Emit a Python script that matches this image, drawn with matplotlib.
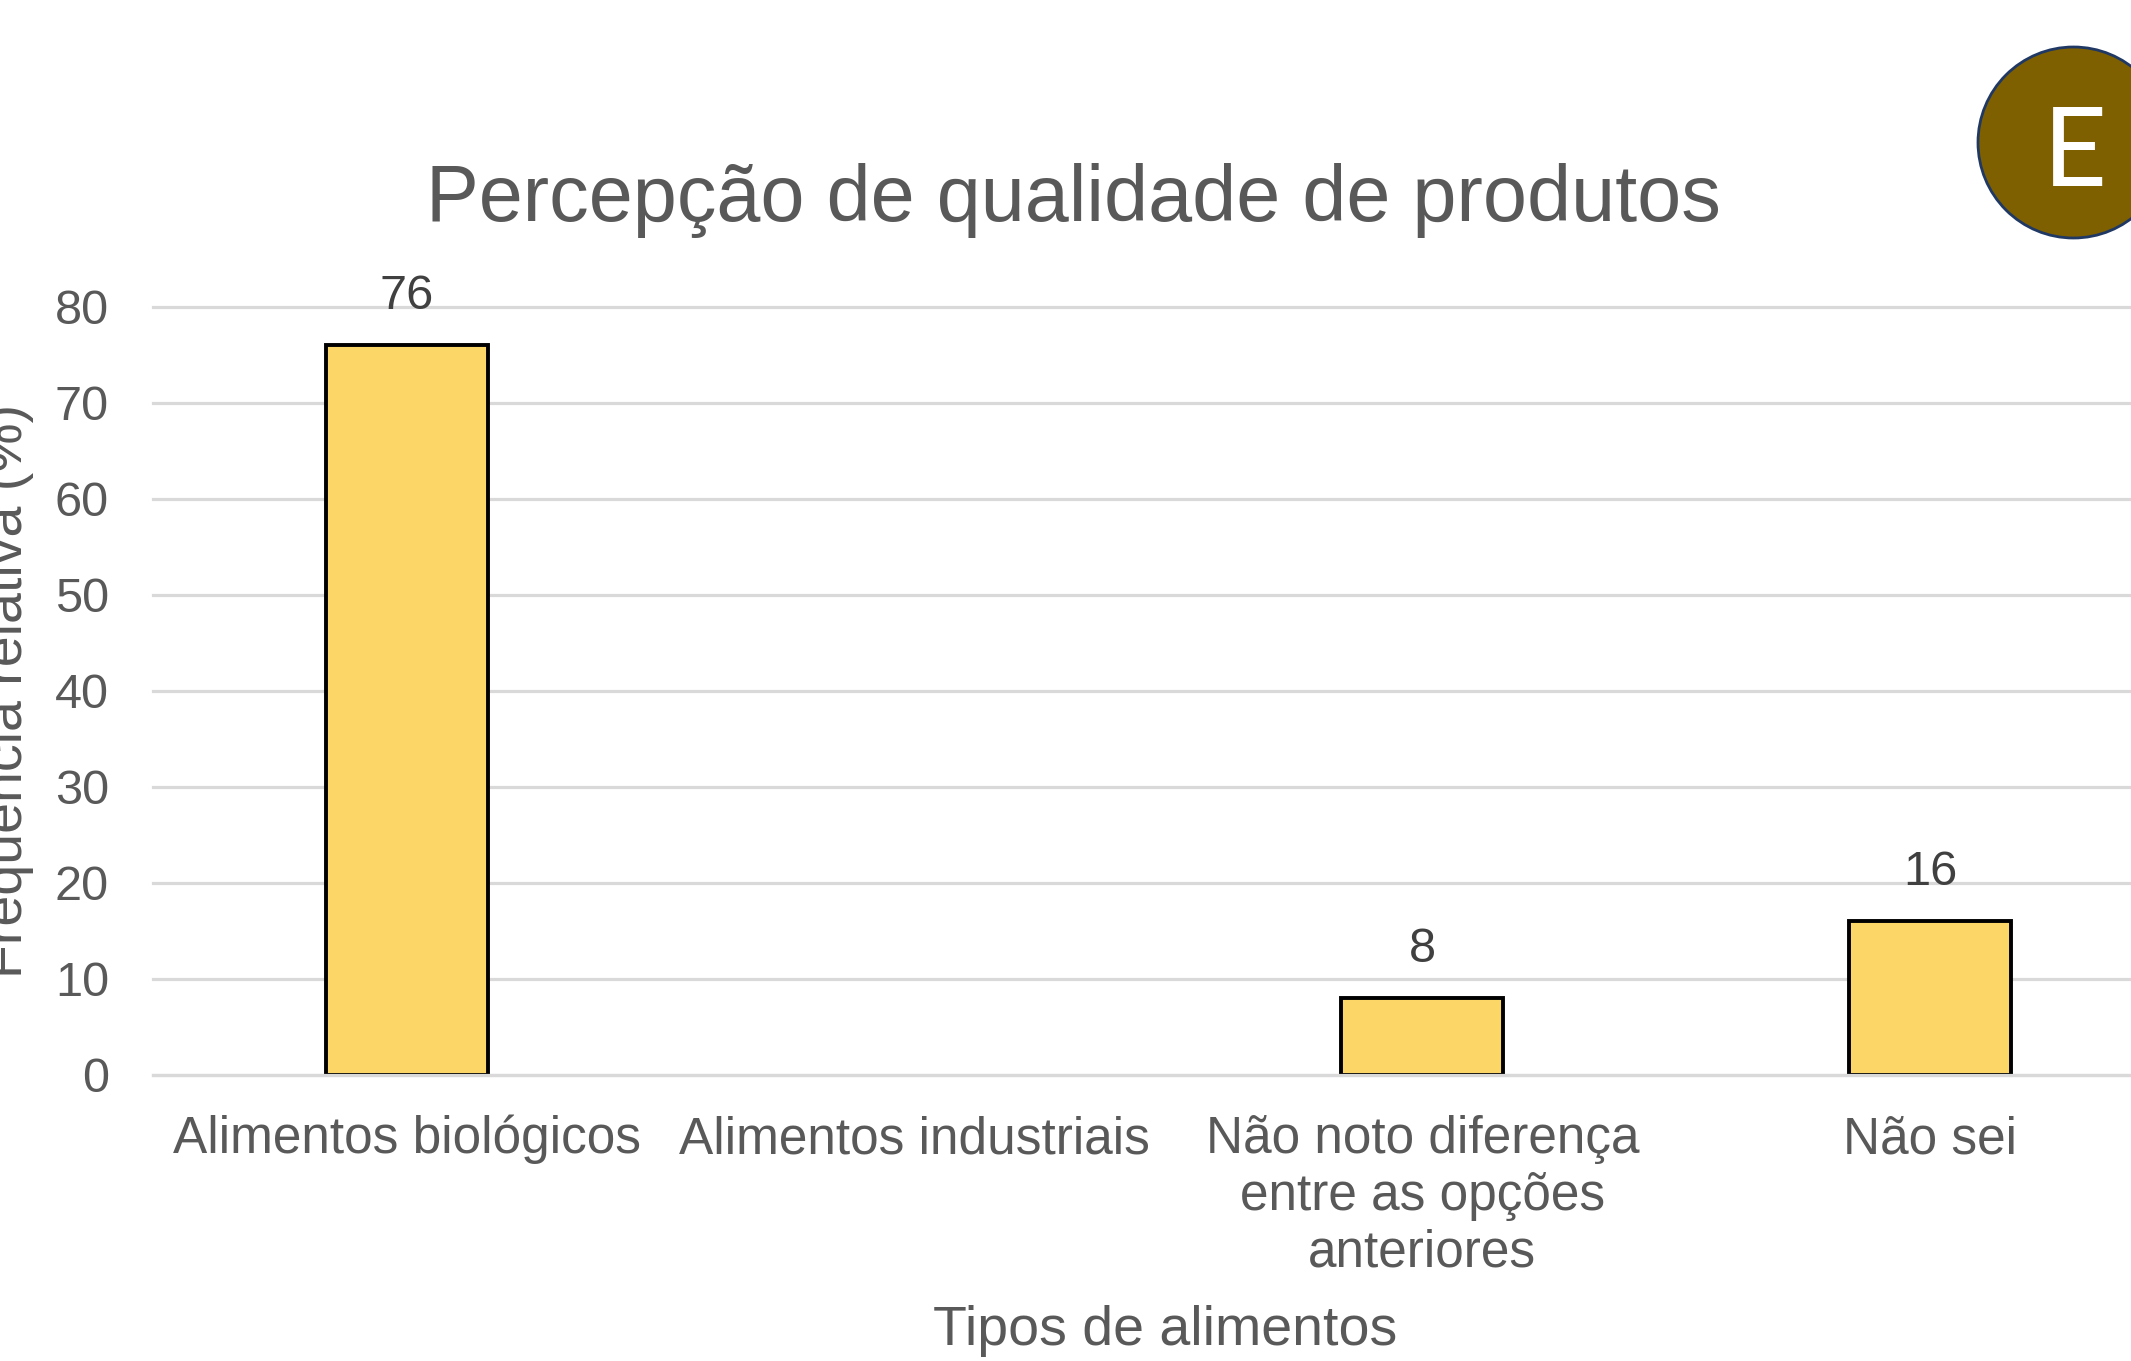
import matplotlib
matplotlib.use("Agg")
import matplotlib.pyplot as plt
from matplotlib.patches import Circle

# ---- data ----
categories = ["Alimentos biológicos", "Alimentos industriais",
              "Não noto diferença\nentre as opções\nanteriores", "Não sei"]
values = [76, 0, 8, 16]
value_labels = ["76", "", "8", "16"]
y_ticks = [0, 10, 20, 30, 40, 50, 60, 70, 80]
title = "Percepção de qualidade de produtos"
x_title = "Tipos de alimentos"
y_title = "Frequência relativa (%)"
badge = "E"

plt.rcParams['font.family'] = ['Liberation Sans', 'DejaVu Sans']

W, H, DPI = 2131, 1361, 100
fig = plt.figure(figsize=(W / DPI, H / DPI), dpi=DPI)
fig.patch.set_facecolor('white')

ax_left, ax_right, ax_bottom, ax_top = 153, 2184, 1075, 307
ax = fig.add_axes([ax_left / W, 1 - ax_bottom / H,
                   (ax_right - ax_left) / W, (ax_bottom - ax_top) / H])

text_gray = '#595959'
grid_gray = '#D9D9D9'

x = list(range(len(categories)))
edge_widths = [2.8 if v > 0 else 0 for v in values]
bars = ax.bar(x, values, width=0.319, color='#FCD767', edgecolor='black',
              linewidth=edge_widths, zorder=2)

ax.set_xlim(-0.5, len(categories) - 0.5)
ax.set_ylim(0, 80)
ax.set_yticks(y_ticks)
ax.set_yticklabels([str(t) for t in y_ticks])
ax.set_xticks(x)
ax.set_xticklabels(categories)

ax.set_axisbelow(True)
ax.grid(axis='y', color=grid_gray, linewidth=2.3)
for gl in ax.get_ygridlines():
    gl.set_clip_on(False)
ax.grid(axis='x', visible=False)

for s in ['top', 'right', 'left']:
    ax.spines[s].set_visible(False)
ax.spines['bottom'].set_color(grid_gray)
ax.spines['bottom'].set_linewidth(2.3)
ax.spines['bottom'].set_zorder(3)

ax.tick_params(axis='y', length=0, pad=31.7, labelsize=35, labelcolor=text_gray)
ax.tick_params(axis='x', length=0, pad=28.8, labelsize=37, labelcolor=text_gray)
for lbl in ax.get_xticklabels():
    lbl.set_multialignment('center')

# data labels
for xi, v, lab in zip(x, values, value_labels):
    if lab:
        ax.annotate(lab, (xi, v), xytext=(0, 26), textcoords='offset points',
                    ha='center', va='baseline', fontsize=35, color='#404040')

# axis titles
ax.set_xlabel(x_title, fontsize=40, color=text_gray, va='baseline')
ax.xaxis.set_label_coords((1165 - ax_left) / (ax_right - ax_left),
                          (ax_bottom - 1345) / (ax_bottom - ax_top))
ax.set_ylabel(y_title, fontsize=40, color=text_gray, va='baseline')
ax.yaxis.set_label_coords((22 - ax_left) / (ax_right - ax_left), 0.5)

# title
fig.text(1073 / W, 1 - 221.5 / H, title, ha='center', va='baseline',
         fontsize=57, color=text_gray)

# badge circle
circ = Circle((2073.5 / DPI, (H - 142.5) / DPI), 95.5 / DPI,
              transform=fig.dpi_scale_trans, facecolor='#7F6000',
              edgecolor='#1F3864', linewidth=2.0, zorder=5)
fig.patches.append(circ)
fig.text(2075 / W, 1 - 186 / H, badge, ha='center', va='baseline',
         fontsize=80, color='white', family=['Lato', 'DejaVu Sans'], zorder=6)

fig.savefig('out.png', dpi=DPI, facecolor='white')
